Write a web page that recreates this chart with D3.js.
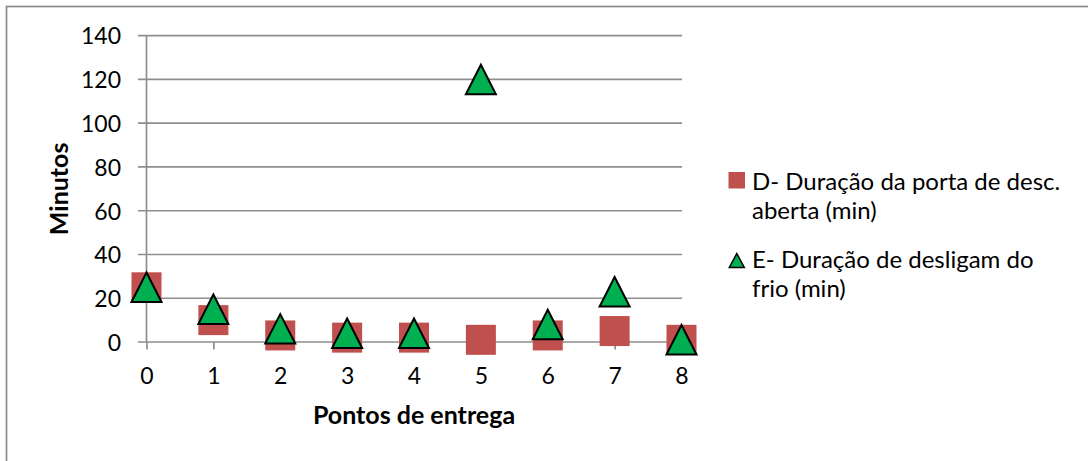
<!DOCTYPE html>
<html>
<head>
<meta charset="utf-8">
<script src="https://cdn.jsdelivr.net/npm/d3@7"></script>
<style>
  html, body { margin: 0; padding: 0; background: #fff; }
  svg { display: block; }
  text { font-family: Lato, "Open Sans", sans-serif; fill: #000; }
</style>
</head>
<body>
<svg id="chart" width="1088" height="461"></svg>
<script>
// Delivery points on the horizontal axis
const pontos = [0, 1, 2, 3, 4, 5, 6, 7, 8];
// D- time the unloading door stayed open (min)
const duracaoPorta = [25, 10, 3, 2, 2, 1, 3, 5, 1];
// E- time the refrigeration was switched off (min)
const duracaoDesligam = [25, 15, 6, 4, 4, 120, 8, 23, 1];
// Axis ticks
const yTicks = [0, 20, 40, 60, 80, 100, 120, 140];
const xTicks = [0, 1, 2, 3, 4, 5, 6, 7, 8];
const legendLabels = [
  ["D- Duração da porta de desc.", "aberta (min)"],
  ["E- Duração de desligam do", "frio (min)"]
];

const svg = d3.select("#chart");
const RED = "#C0504D", GREEN = "#00B050", GRID = "#8e8e8e";

const x = d3.scaleLinear().domain([0, 8]).range([146.5, 681.5]);
const y = d3.scaleLinear().domain([0, 140]).range([342, 35.7]);

// chart frame
svg.append("rect")
  .attr("x", 6.5).attr("y", 6.5)
  .attr("width", 1100).attr("height", 500)
  .attr("fill", "none").attr("stroke", "#8a8a8a").attr("stroke-width", 1.7);

// horizontal gridlines (also form the left tick marks)
svg.append("g").selectAll("line").data(yTicks).join("line")
  .attr("x1", x(0) - 8.5).attr("x2", x(8) + 0.5)
  .attr("y1", d => y(d)).attr("y2", d => y(d))
  .attr("stroke", GRID).attr("stroke-width", 1.7);

// vertical axis line
svg.append("line")
  .attr("x1", x(0)).attr("x2", x(0))
  .attr("y1", y(140)).attr("y2", y(0))
  .attr("stroke", GRID).attr("stroke-width", 1.7);

// y axis labels
const yAxis = svg.append("g")
  .attr("transform", `translate(${x(0)},0)`)
  .call(d3.axisLeft(y).tickValues(yTicks).tickSize(0).tickPadding(25.5));
yAxis.select(".domain").remove();
yAxis.selectAll("text")
  .attr("font-family", "Lato, sans-serif").attr("font-size", 23)
  .attr("fill", "#000").attr("dy", "0.36em");

// x axis ticks and labels
const xAxis = svg.append("g")
  .attr("transform", `translate(0,${y(0)})`)
  .call(d3.axisBottom(x).tickValues(xTicks).tickSize(7.5).tickPadding(18));
xAxis.select(".domain").remove();
xAxis.selectAll("line").attr("stroke", GRID).attr("stroke-width", 1.7);
xAxis.selectAll("text")
  .attr("font-family", "Lato, sans-serif").attr("font-size", 23)
  .attr("fill", "#000");

// axis titles
svg.append("text")
  .attr("x", (x(0) + x(8)) / 2).attr("y", 424)
  .attr("text-anchor", "middle")
  .attr("font-size", 25).attr("font-weight", "bold")
  .text("Pontos de entrega");

svg.append("text")
  .attr("transform", `translate(68,${(y(0) + y(140)) / 2}) rotate(-90)`)
  .attr("text-anchor", "middle")
  .attr("font-size", 25).attr("font-weight", "bold")
  .text("Minutos");

// series D: squares
const SQ = 30;
svg.append("g").selectAll("rect").data(pontos).join("rect")
  .attr("x", (d, i) => x(d) - SQ / 2)
  .attr("y", (d, i) => y(duracaoPorta[i]) - SQ / 2)
  .attr("width", SQ).attr("height", SQ)
  .attr("fill", RED);

// series E: triangles
const tri = (cx, cy, h, w) =>
  `M${cx},${cy - h / 2}L${cx + w / 2},${cy + h / 2}L${cx - w / 2},${cy + h / 2}Z`;
svg.append("g").selectAll("path").data(pontos).join("path")
  .attr("d", (d, i) => tri(x(d), y(duracaoDesligam[i]), 29.5, 30))
  .attr("fill", GREEN).attr("stroke", "#000").attr("stroke-width", 2)
  .attr("stroke-linejoin", "miter");

// legend
const lg = svg.append("g");
lg.append("rect")
  .attr("x", 728.5).attr("y", 172).attr("width", 16.5).attr("height", 16.5)
  .attr("fill", RED);
lg.append("path")
  .attr("d", tri(736.8, 260.5, 14, 15))
  .attr("fill", GREEN).attr("stroke", "#000").attr("stroke-width", 1.5);

const baselines = [[189.5, 218.5], [268, 297]];
legendLabels.forEach((lines, k) => {
  lines.forEach((t, j) => {
    lg.append("text")
      .attr("x", 752).attr("y", baselines[k][j])
      .attr("font-size", 24)
      .text(t);
  });
});
</script>
</body>
</html>
